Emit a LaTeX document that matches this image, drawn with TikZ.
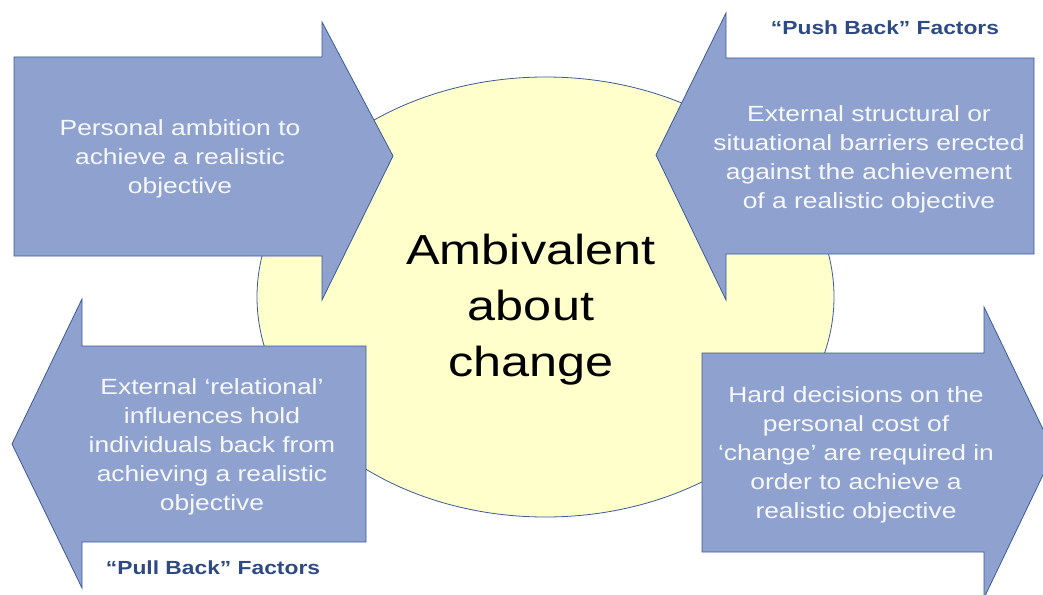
\documentclass[tikz,border=0pt]{standalone}
\usepackage{fontspec}
\setmainfont{Liberation Sans}[FakeStretch=1.2]
\definecolor{arrowfill}{HTML}{8FA2CF}
\definecolor{arrowline}{HTML}{3C5A96}
\definecolor{bubblefill}{HTML}{FFFFCC}
\definecolor{labelblue}{HTML}{2E4A82}
\begin{document}
\begin{tikzpicture}[x=1pt,y=-1pt,
  arrowbox/.style={draw=arrowline,fill=arrowfill,line width=0.8pt,line join=miter},
  arrowtext/.style={text=white!92!arrowfill,align=center,font=\fontsize{22}{29}\selectfont},
  factor/.style={text=labelblue,font=\bfseries\fontsize{19}{23}\selectfont}]
\useasboundingbox (0,0) rectangle (1043,594);
% centre bubble
\draw[draw=arrowline,fill=bubblefill,line width=0.8pt] (545.5,297) ellipse [x radius=288.5pt,y radius=220pt];
\node[font=\fontsize{42}{56}\selectfont,align=center] (ambivalent) at (531,310) {Ambivalent\\about\\change};
% the four block arrows
\draw[arrowbox] (14,57)--(322,57)--(322,22)--(393,156)--(322,300)--(322,256)--(14,256)--cycle;
\draw[arrowbox] (1034,58)--(726,58)--(726,13)--(656,155)--(726,300)--(726,254)--(1034,254)--cycle;
\draw[arrowbox] (366,346)--(82,346)--(82,299)--(12,444)--(82,588)--(82,542)--(366,542)--cycle;
\draw[arrowbox] (702,353)--(984,353)--(984,307)--(1054,452)--(984,598)--(984,552)--(702,552)--cycle;
\node[arrowtext] (ambition) at (180,159) {Personal ambition to\\achieve a realistic\\objective};
\node[arrowtext] (barriers) at (869,159) {External structural or\\situational barriers erected\\against the achievement\\of a realistic objective};
\node[arrowtext] (relational) at (212,447) {External `relational'\\influences hold\\individuals back from\\achieving a realistic\\objective};
\node[arrowtext] (decisions) at (856,455) {Hard decisions on the\\personal cost of\\`change' are required in\\order to achieve a\\realistic objective};
\node[factor] (pushback) at (885,28) {``Push Back'' Factors};
\node[factor] (pullback) at (213,568) {``Pull Back'' Factors};
\end{tikzpicture}
\end{document}
